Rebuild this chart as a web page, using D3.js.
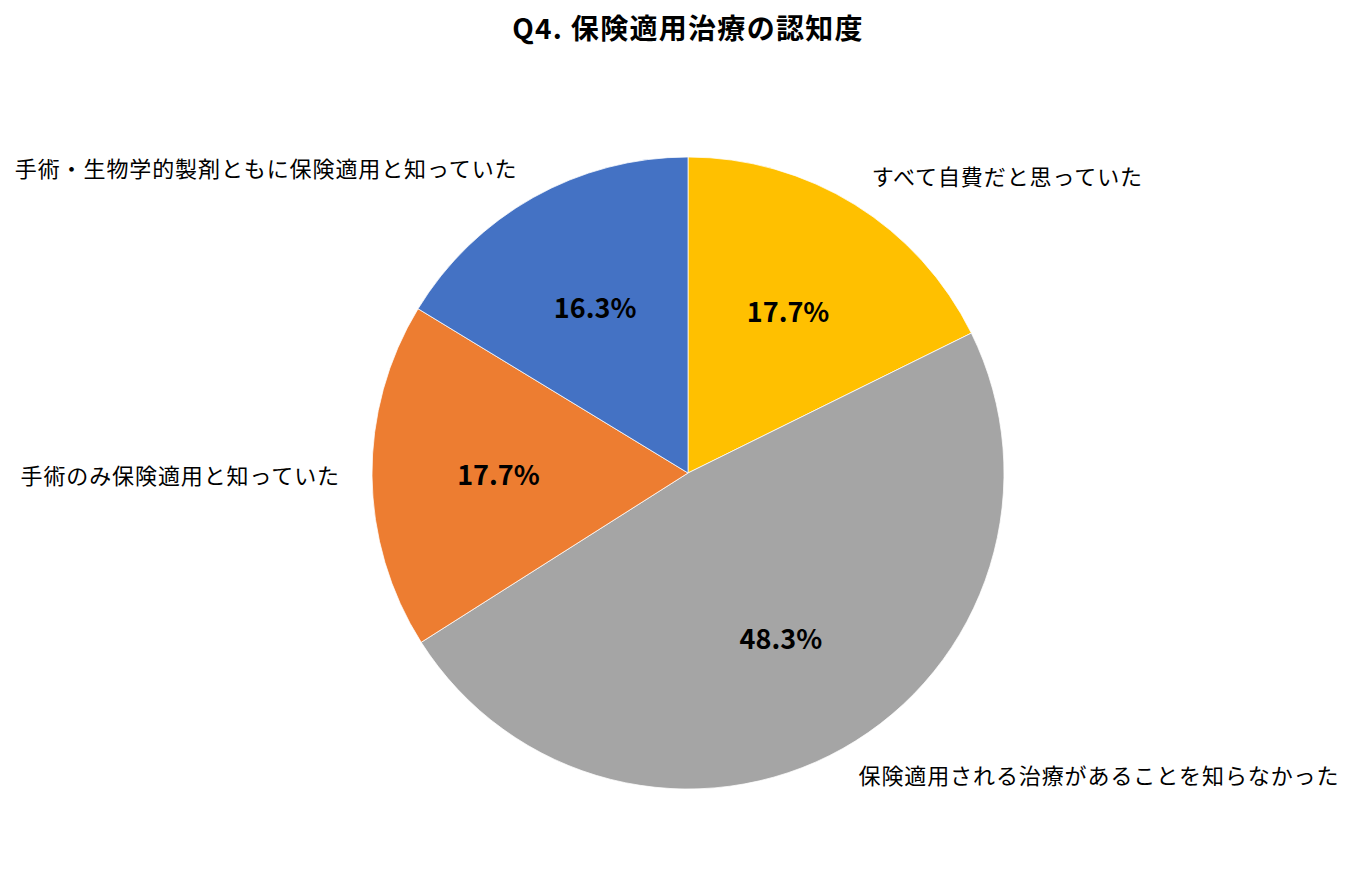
<!DOCTYPE html>
<html><head><meta charset="utf-8">
<script src="https://cdn.jsdelivr.net/npm/d3@7"></script>
<style>body{margin:0;background:#fff;}</style>
</head><body>
<svg id="chart" width="1353" height="883"></svg>
<script>
const categories = ["すべて自費だと思っていた","保険適用される治療があることを知らなかった","手術のみ保険適用と知っていた","手術・生物学的製剤ともに保険適用と知っていた"];
const values = [17.7, 48.3, 17.7, 16.3];
const colors = ["#FFC000","#A5A5A5","#ED7D31","#4472C4"];
const title = "Q4. 保険適用治療の認知度";

const svg = d3.select("#chart");
const cx = 688, cy = 473, R = 316;
const font = "'Noto Sans CJK JP','Noto Sans',sans-serif";

svg.append("text").attr("x", cx).attr("y", 31).attr("text-anchor","middle")
  .attr("dominant-baseline","middle").attr("font-family", font).attr("font-weight",700)
  .attr("font-size", 28).attr("letter-spacing", 1.3).attr("fill","#000").text(title);

const data = categories.map((c,i)=>({cat:c, v:values[i], color:colors[i]}));
const pie = d3.pie().value(d=>d.v).sort(null);
const arcs = pie(data);
const arc = d3.arc().innerRadius(0).outerRadius(R);
const labelArc = d3.arc().innerRadius(R*0.6).outerRadius(R*0.6);
const outerArc = d3.arc().innerRadius(348).outerRadius(348);

const g = svg.append("g").attr("transform", `translate(${cx},${cy})`);
g.selectAll("path").data(arcs).join("path")
  .attr("d", arc).attr("fill", d=>d.data.color)
  .attr("stroke","#fff").attr("stroke-width",0.75);

g.selectAll("text.pct").data(arcs).join("text").attr("class","pct")
  .attr("transform", d=>`translate(${labelArc.centroid(d)})`)
  .attr("dy", 3)
  .attr("text-anchor","middle").attr("dominant-baseline","middle")
  .attr("font-family", font).attr("font-weight",700).attr("font-size",27)
  .attr("fill","#000").text(d=>d.data.v.toFixed(1)+"%");

g.selectAll("text.cat").data(arcs).join("text").attr("class","cat")
  .attr("transform", d=>`translate(${outerArc.centroid(d)})`)
  .attr("dy", 1.5)
  .attr("text-anchor", d=>((d.startAngle+d.endAngle)/2 < Math.PI) ? "start" : "end")
  .attr("dominant-baseline","middle")
  .attr("font-family", font).attr("font-size",22).attr("letter-spacing",0.9)
  .attr("fill","#000").text(d=>d.data.cat);
</script>
</body></html>
